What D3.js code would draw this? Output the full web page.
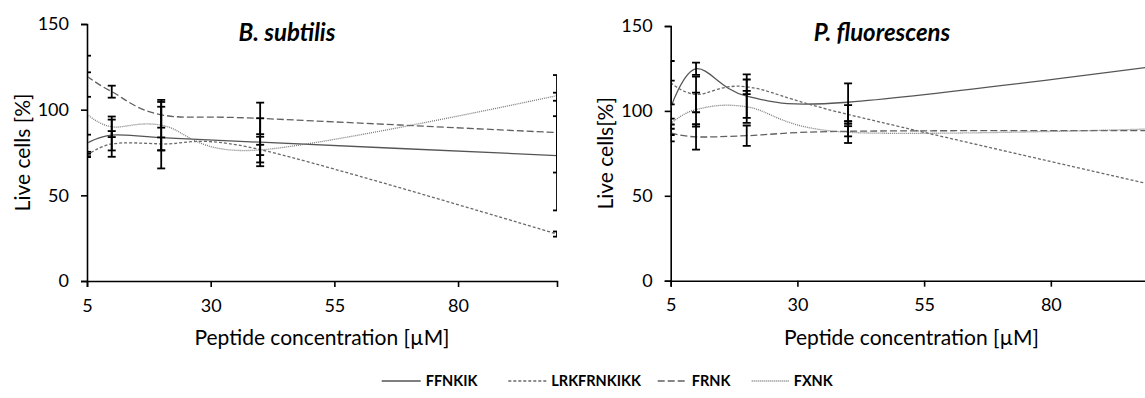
<!DOCTYPE html>
<html>
<head>
<meta charset="utf-8">
<script src="https://cdn.jsdelivr.net/npm/d3@7/dist/d3.min.js"></script>
<style>
  html, body { margin: 0; padding: 0; background: #fff; }
  svg { display: block; }
  text { font-family: Lato, "Open Sans", sans-serif; fill: #000; }
</style>
</head>
<body>
<svg id="chart" width="1145" height="398"></svg>
<script>
// Peptide concentrations (µM)
const concentrations = [5, 10, 20, 40, 100];
const seriesNames = ["FFNKIK", "LRKFRNKIKK", "FRNK", "FXNK"];
const xTicks = [5, 30, 55, 80];
const yTicks = [0, 50, 100, 150];

// B. subtilis: mean live cells (%) and error
const bsFFNKIK = [80.4, 85.2, 83.7, 81.0, 73.2];
const bsFFNKIKErr = [5, 9, 18, 14, 32];
const bsLRKFRNKIKK = [73.3, 80.0, 80.0, 76.7, 27.4];
const bsLRKFRNKIKKErr = [1, 7.5, 3.8, 7.5, 1.5];
const bsFRNK = [119.5, 110.5, 97.0, 94.9, 86.6];
const bsFRNKErr = [12, 3.5, 7.5, 9.2, 23.3];
const bsFXNK = [97.3, 90.0, 91.0, 76.5, 108.2];
const bsFXNKErr = [24.5, 6, 14.7, 3, 12];

// P. fluorescens: mean live cells (%) and error
const pfFFNKIK = [101.8, 124.8, 108.7, 105.1, 126.0];
const pfFFNKIKErr = [16, 3.6, 12.8, 11.1, 10];
const pfLRKFRNKIKK = [116.6, 109.7, 114.2, 97.9, 56.5];
const pfLRKFRNKIKKErr = [12.8, 10.5, 4.3, 5.5, 5];
const pfFRNK = [87.0, 84.7, 85.4, 88.0, 88.4];
const pfFRNKErr = [5, 7.5, 6, 3, 3];
const pfFXNK = [92.5, 100.8, 102.4, 87.4, 89.4];
const pfFXNKErr = [3, 10, 9.4, 6.3, 3];

const lineStyles = {
  "FFNKIK":     { stroke: "#555555", dash: null },
  "LRKFRNKIKK": { stroke: "#6a6a6a", dash: "3,2" },
  "FRNK":       { stroke: "#606060", dash: "7,3" },
  "FXNK":       { stroke: "#7a7a7a", dash: "1,1" }
};

// Legend entry layout: where each key starts and how long its sample line is
const legendKeyX = [381.7, 508.3, 657.7, 751.7];
const legendKeyLen = [39, 38, 29, 37];

function buildSeries(vals) {
  return seriesNames.map((name, i) => ({
    name,
    points: concentrations.map((c, j) => ({ x: c, y: vals[i][0][j], e: vals[i][1][j] }))
  }));
}

const panels = [
  {
    id: "bs", title: "B. subtilis", yLabel: "Live cells [%]",
    xRange: [87, 557], yRange: [281, 24], titleX: 287, yLabelX: 23,
    series: buildSeries([[bsFFNKIK, bsFFNKIKErr], [bsLRKFRNKIKK, bsLRKFRNKIKKErr], [bsFRNK, bsFRNKErr], [bsFXNK, bsFXNKErr]])
  },
  {
    id: "pf", title: "P. fluorescens", yLabel: "Live cells[%]",
    xRange: [670.7, 1152.2], yRange: [280.7, 26], titleX: 882, yLabelX: 606,
    series: buildSeries([[pfFFNKIK, pfFFNKIKErr], [pfLRKFRNKIKK, pfLRKFRNKIKKErr], [pfFRNK, pfFRNKErr], [pfFXNK, pfFXNKErr]])
  }
];

const svg = d3.select("#chart");
const defs = svg.append("defs");

panels.forEach(p => {
  const x = d3.scaleLinear().domain([5, 100]).range(p.xRange);
  const y = d3.scaleLinear().domain([0, 150]).range(p.yRange);
  const g = svg.append("g");

  // Clip marks to the plot's horizontal extent
  defs.append("clipPath").attr("id", "clip-" + p.id)
    .append("rect")
    .attr("x", p.xRange[0]).attr("y", 0)
    .attr("width", p.xRange[1] - p.xRange[0]).attr("height", 398);

  // Axes
  const yAxis = d3.axisLeft(y).tickValues(yTicks).tickSize(6).tickPadding(12).tickFormat(d3.format("d"));
  const gy = g.append("g").attr("transform", `translate(${p.xRange[0]},0)`).call(yAxis);
  const xAxis = d3.axisBottom(x).tickValues(xTicks).tickSize(6).tickPadding(12).tickFormat(d3.format("d"));
  const gx = g.append("g").attr("transform", `translate(0,${p.yRange[0]})`).call(xAxis);
  [gx, gy].forEach(a => {
    a.select(".domain").attr("stroke", "#000").attr("stroke-width", 1.6);
    a.selectAll(".tick line").attr("stroke", "#000").attr("stroke-width", 1.6);
    a.selectAll(".tick text").style("font-size", "18px").attr("fill", "#000");
  });

  const marks = g.append("g").attr("clip-path", `url(#clip-${p.id})`);

  // Smoothed series lines
  const line = d3.line().x(d => x(d.x)).y(d => y(d.y)).curve(d3.curveCardinal.tension(0));
  p.series.forEach(s => {
    const st = lineStyles[s.name];
    marks.append("path")
      .datum(s.points)
      .attr("d", line)
      .attr("fill", "none")
      .attr("stroke", st.stroke)
      .attr("stroke-width", 1.3)
      .attr("stroke-dasharray", st.dash);
  });

  // Error bars
  const capHalf = 4;
  p.series.forEach(s => {
    const eb = marks.append("g").attr("stroke", "#000").attr("stroke-width", 1.8);
    s.points.forEach(d => {
      const cx = x(d.x), top = y(d.y + d.e), bot = y(d.y - d.e);
      eb.append("line").attr("x1", cx).attr("x2", cx).attr("y1", top).attr("y2", bot);
      eb.append("line").attr("x1", cx - capHalf).attr("x2", cx + capHalf).attr("y1", top).attr("y2", top);
      eb.append("line").attr("x1", cx - capHalf).attr("x2", cx + capHalf).attr("y1", bot).attr("y2", bot);
    });
  });

  // Title
  g.append("text")
    .attr("x", p.titleX).attr("y", 41)
    .attr("text-anchor", "middle")
    .style("font-size", "24px").style("font-weight", "bold").style("font-style", "italic")
    .text(p.title);

  // Axis titles
  g.append("text")
    .attr("x", (p.xRange[0] + p.xRange[1]) / 2).attr("y", 345)
    .attr("text-anchor", "middle")
    .style("font-size", "21px")
    .text("Peptide concentration [µM]");
  g.append("text")
    .attr("transform", `translate(${p.yLabelX},${(p.yRange[0] + p.yRange[1]) / 2}) rotate(-90)`)
    .attr("text-anchor", "middle").attr("dy", "0.35em")
    .style("font-size", "21px")
    .text(p.yLabel);
});

// Legend
const legend = svg.append("g").attr("transform", "translate(0,381)");
seriesNames.forEach((name, i) => {
  const st = lineStyles[name];
  const kx = legendKeyX[i], kl = legendKeyLen[i];
  legend.append("line")
    .attr("x1", kx).attr("x2", kx + kl).attr("y1", 0).attr("y2", 0)
    .attr("stroke", st.stroke).attr("stroke-width", 1.3)
    .attr("stroke-dasharray", st.dash);
  legend.append("text")
    .attr("x", kx + kl + 5).attr("y", 0).attr("dy", "0.35em")
    .style("font-size", "14.5px").style("font-weight", "bold")
    .text(name);
});
</script>
</body>
</html>
